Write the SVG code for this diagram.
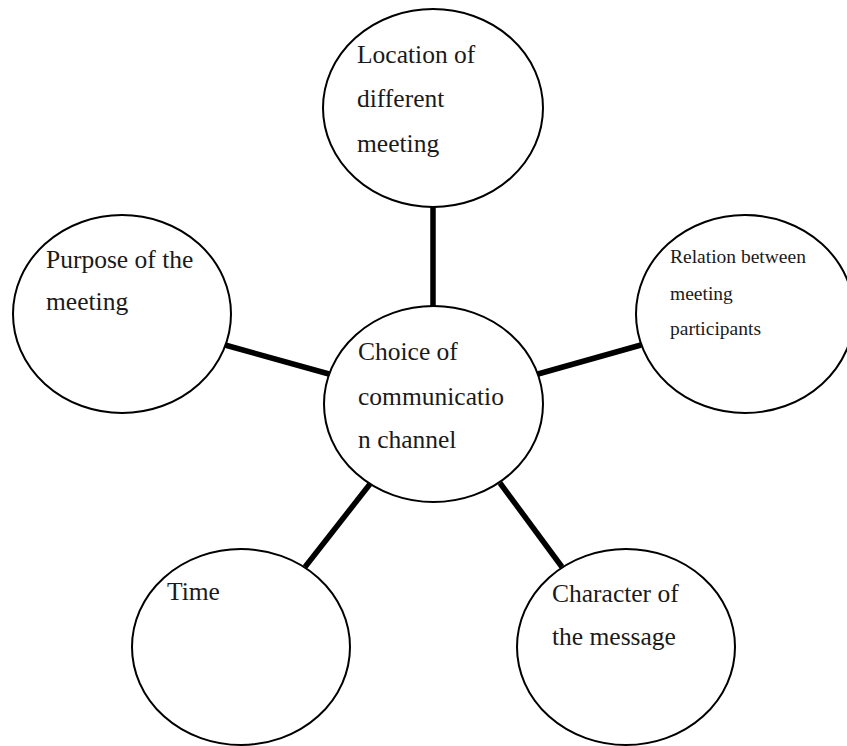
<svg xmlns="http://www.w3.org/2000/svg" width="847" height="746" viewBox="0 0 847 746">
  <style>
    .bubble { fill: #ffffff; stroke: #000000; stroke-width: 2; }
    .link { stroke: #000000; stroke-width: 5.5; fill: none; }
    .label { font-family: "Liberation Serif", "Times New Roman", serif; font-size: 25.5px; fill: #1a1a1a; }
    .small { font-size: 19.5px; }
  </style>
  <rect width="847" height="746" fill="#ffffff"/>

  <!-- spokes from the hub to each factor -->
  <g id="connectors">
    <line class="link" x1="433" y1="207" x2="433" y2="306"/>
    <line class="link" x1="225" y1="345" x2="329" y2="374"/>
    <line class="link" x1="538" y1="374" x2="641" y2="345"/>
    <line class="link" x1="305" y1="567" x2="370" y2="484"/>
    <line class="link" x1="500" y1="483" x2="562" y2="567"/>
  </g>

  <g id="location">
    <ellipse class="bubble" cx="433" cy="108" rx="110" ry="99"/>
    <text class="label" x="357" y="63">Location of</text>
    <text class="label" x="357" y="107">different</text>
    <text class="label" x="357" y="152">meeting</text>
  </g>

  <g id="purpose">
    <ellipse class="bubble" cx="122" cy="314" rx="109" ry="99"/>
    <text class="label" x="46" y="268">Purpose of the</text>
    <text class="label" x="46" y="310">meeting</text>
  </g>

  <g id="relation">
    <ellipse class="bubble" cx="745" cy="314" rx="109" ry="99"/>
    <text class="label small" x="670" y="263">Relation between</text>
    <text class="label small" x="670" y="300">meeting</text>
    <text class="label small" x="670" y="335">participants</text>
  </g>

  <g id="choice">
    <ellipse class="bubble" cx="433.5" cy="404" rx="109.5" ry="98"/>
    <text class="label" x="358" y="360">Choice of</text>
    <text class="label" x="358" y="405">communicatio</text>
    <text class="label" x="358" y="448">n channel</text>
  </g>

  <g id="time">
    <ellipse class="bubble" cx="241" cy="647" rx="109" ry="98"/>
    <text class="label" x="167" y="600">Time</text>
  </g>

  <g id="character">
    <ellipse class="bubble" cx="626" cy="647" rx="109" ry="98"/>
    <text class="label" x="552" y="602">Character of</text>
    <text class="label" x="552" y="645">the message</text>
  </g>
</svg>
